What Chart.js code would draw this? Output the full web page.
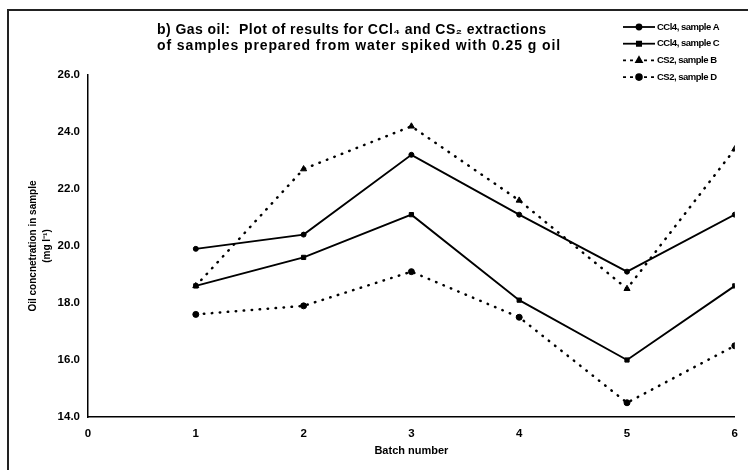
<!DOCTYPE html>
<html>
<head>
<meta charset="utf-8">
<script src="https://cdn.jsdelivr.net/npm/chart.js@4.4.1/dist/chart.umd.min.js"></script>
<style>
  body { margin: 0; background: #fff; }
  canvas { display: block; }
</style>
</head>
<body>
<canvas id="oilChart" width="748" height="470"></canvas>
<script>
// Batch numbers and oil concentrations (mg/l)
var batches = [1, 2, 3, 4, 5, 6];
var ccl4SampleA = [19.9, 20.4, 23.2, 21.1, 19.1, 21.1];
var ccl4SampleC = [18.6, 19.6, 21.1, 18.1, 16.0, 18.6];
var cs2SampleB = [18.6, 22.7, 24.2, 21.6, 18.5, 23.4];
var cs2SampleD = [17.6, 17.9, 19.1, 17.5, 14.5, 16.5];
var yTicks = [14, 16, 18, 20, 22, 24, 26];
var xTicks = [0, 1, 2, 3, 4, 5, 6];
var seriesLabels = ["CCl4, sample A", "CCl4, sample C", "CS2, sample B", "CS2, sample D"];
var titleLines = [
    "b) Gas oil:  Plot of results for CCl\u2084 and CS\u2082 extractions",
    "of samples prepared from water spiked with 0.25 g oil"
];

var FONT = "'Liberation Sans', Arial, Helvetica, sans-serif";

function toPoints(values) {
    return batches.map(function (b, i) { return { x: b, y: values[i] }; });
}

function makeSeries(label, values, dotted, pointStyle, radius) {
    return {
        label: label,
        data: toPoints(values),
        borderColor: "#000",
        backgroundColor: "#000",
        borderWidth: dotted ? 2.5 : 1.9,
        borderDash: dotted ? [0.5, 7.5] : [],
        borderCapStyle: dotted ? "round" : "butt",
        pointStyle: pointStyle,
        pointRadius: radius,
        pointBorderWidth: 1,
        tension: 0,
        fill: false
    };
}

// Draws the white page, the frame, the title and the legend
var paperPlugin = {
    id: "paper",
    beforeDraw: function (chart) {
        var ctx = chart.ctx;
        ctx.save();
        ctx.fillStyle = "#fff";
        ctx.fillRect(0, 0, chart.width, chart.height);
        ctx.restore();
    },
    afterDraw: function (chart) {
        var ctx = chart.ctx;
        var hasSpacing = "letterSpacing" in ctx;
        ctx.save();

        // frame round the figure
        ctx.strokeStyle = "#222";
        ctx.lineWidth = 2;
        ctx.beginPath();
        ctx.moveTo(8, chart.height);
        ctx.lineTo(8, 10);
        ctx.lineTo(chart.width, 10);
        ctx.stroke();

        // title
        ctx.fillStyle = "#000";
        ctx.font = "bold 14px " + FONT;
        ctx.textAlign = "left";
        ctx.textBaseline = "middle";
        var spacing = ["0.45px", "0.9px"];
        titleLines.forEach(function (line, i) {
            if (hasSpacing) ctx.letterSpacing = spacing[i];
            ctx.fillText(line, 157, 30 + i * 16);
        });

        // legend
        ctx.font = "bold 9.5px " + FONT;
        if (hasSpacing) ctx.letterSpacing = "-0.5px";
        chart.data.datasets.forEach(function (ds, i) {
            var y = 27 + i * 16.7;
            ctx.strokeStyle = "#000";
            ctx.lineWidth = ds.borderDash.length ? 1.6 : 1.8;
            ctx.setLineDash(ds.borderDash.length ? [3, 4] : []);
            ctx.beginPath();
            ctx.moveTo(623, y);
            ctx.lineTo(655, y);
            ctx.stroke();
            ctx.setLineDash([]);
            Chart.helpers.drawPoint(ctx, {
                pointStyle: ds.pointStyle,
                radius: ds.pointRadius,
                rotation: 0,
                borderWidth: 1
            }, 639, y);
            ctx.fillStyle = "#000";
            ctx.fill();
            ctx.fillText(ds.label, 657, y);
        });
        if (hasSpacing) ctx.letterSpacing = "0px";

        ctx.restore();
    }
};

var tickFont = { family: FONT, size: 11.5, weight: "bold" };

var oilChart = new Chart(document.getElementById("oilChart"), {
    type: "line",
    data: {
        datasets: [
            makeSeries(seriesLabels[0], ccl4SampleA, false, "circle", 2.5),
            makeSeries(seriesLabels[1], ccl4SampleC, false, "rect", 3),
            makeSeries(seriesLabels[2], cs2SampleB, true, "triangle", 3.5),
            makeSeries(seriesLabels[3], cs2SampleD, true, "circle", 3)
        ]
    },
    options: {
        responsive: false,
        animation: false,
        layout: { padding: { left: 0, right: 6, top: 75, bottom: 0 } },
        plugins: {
            legend: { display: false },
            title: { display: false },
            tooltip: { enabled: false }
        },
        scales: {
            x: {
                type: "linear",
                min: 0,
                max: 6,
                afterFit: function (scale) { scale.height = 53; },
                afterBuildTicks: function (scale) {
                    scale.ticks = xTicks.map(function (v) { return { value: v }; });
                },
                grid: { display: false, drawTicks: false },
                border: { display: true, color: "#000", width: 1.5 },
                ticks: {
                    color: "#000",
                    padding: 10,
                    font: tickFont,
                    callback: function (value) { return value; }
                },
                title: {
                    display: true,
                    text: "Batch number",
                    color: "#000",
                    font: { family: FONT, size: 11, weight: "bold" },
                    padding: { top: 0, bottom: 12 }
                }
            },
            y: {
                min: 14,
                max: 26,
                afterFit: function (scale) { scale.width = 88; },
                afterBuildTicks: function (scale) {
                    scale.ticks = yTicks.map(function (v) { return { value: v }; });
                },
                grid: { display: false, drawTicks: false },
                border: { display: true, color: "#000", width: 1.5 },
                ticks: {
                    color: "#000",
                    padding: 8,
                    font: tickFont,
                    callback: function (value) { return value.toFixed(1); }
                },
                title: {
                    display: true,
                    text: ["Oil concnetration in sample", "(mg l\u207B\u00B9)"],
                    color: "#000",
                    font: { family: FONT, size: 10, weight: "bold", lineHeight: 1.4 },
                    padding: { top: 26, bottom: 0 }
                }
            }
        }
    },
    plugins: [paperPlugin]
});
</script>
</body>
</html>
